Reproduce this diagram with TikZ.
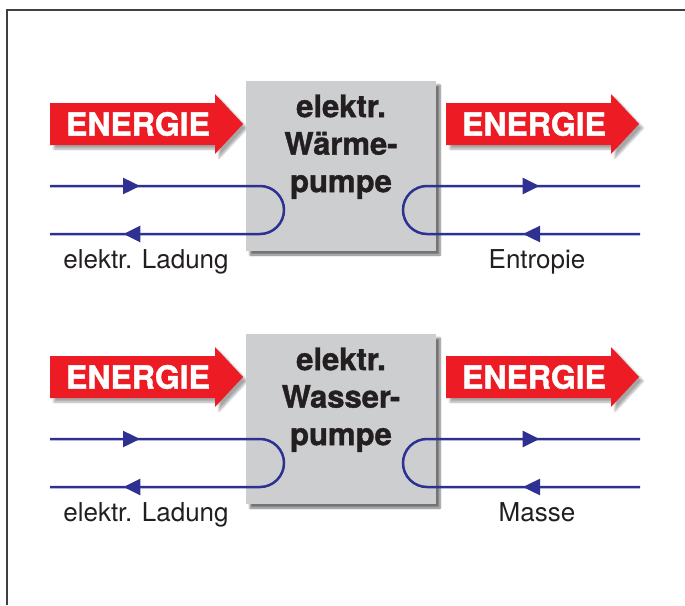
\documentclass[tikz,border=0pt]{standalone}
\usepackage{fontspec}
\setmainfont{TeX Gyre Heros}
\newfontfamily\dickschrift{texgyreheros-bold}[Extension=.otf, FakeBold=1.2]
\usetikzlibrary{positioning,arrows.meta,decorations.markings,shadows.blur}

\definecolor{energierot}{HTML}{ED1C24}
\definecolor{kreisblau}{HTML}{2E3192}
\definecolor{pumpgrau}{HTML}{CDCED0}
\definecolor{schwarz}{HTML}{231F20}

\tikzset{
    pumpe/.style={fill=pumpgrau, minimum width=190pt, minimum height=170pt, inner sep=0pt,
        blur shadow={shadow xshift=4pt, shadow yshift=-4pt, shadow blur steps=6, shadow opacity=55}},
    pumptext/.style={align=center, inner sep=0pt, text=schwarz,
        font=\fontsize{31}{37.5}\selectfont\dickschrift},
    energie/.style={fill=energierot,
        blur shadow={shadow xshift=4pt, shadow yshift=-4pt, shadow blur steps=6, shadow opacity=35}},
    energietext/.style={text=white, inner sep=0pt, font=\fontsize{32}{32}\selectfont\dickschrift},
    kreis/.style 2 args={draw=kreisblau, line width=2.5pt,
        decoration={markings,
            mark=at position #1 with {\arrow{Triangle[length=17pt,width=16pt]}},
            mark=at position #2 with {\arrow{Triangle[length=17pt,width=16pt]}}},
        postaction=decorate},
    beschriftung/.style={anchor=base, inner sep=0pt, text=schwarz, font=\fontsize{26}{26}\selectfont}
}

\begin{document}
\begin{tikzpicture}[x=1pt,y=-1pt]
    \useasboundingbox (0,0) rectangle (685,605);
    \draw[line width=1.3pt, black!75] (7,605) -- (7,10) -- (685,10);
    \foreach \dy/\i/\art/\stoff in {0/1/Wärme/Entropie, 253/2/Wasser/Masse} {
        \begin{scope}[shift={(0,\dy)}]
            % Energiepfeile
            \foreach \ax/\s in {50/l,446/r} {
                \fill[energie] (\ax,103) -- ++(165,0) -- ++(0,-9) -- ++(28,30)
                    -- ++(-28,30) -- ++(0,-9) -- ++(-165,0) -- cycle;
                \node[energietext] (en\s\i) at (\ax+88,124) {ENERGIE};
            }
            \node[pumpe] (wp\i) at (341,166) {};
            \node[pumptext, below=13.5pt of wp\i.north] (wpt\i) {elektr.\\\art-\\pumpe};
            % Kreislaeufe
            \coordinate (lo\i) at (50,186);
            \coordinate (lu\i) at (50,234);
            \coordinate (ro\i) at (640,186);
            \coordinate (ru\i) at (640,234);
            \draw[kreis={90pt}{422pt}] (lo\i) -- (260,186)
                arc[start angle=-90, end angle=90, radius=24] -- (lu\i);
            \draw[kreis={117pt}{401pt}] (ru\i) -- (427,234)
                arc[start angle=90, end angle=270, radius=24] -- (ro\i);
            \node[beschriftung] (la\i) at (146,268) {elektr. Ladung};
            \node[beschriftung] (st\i) at (537,268) {\stoff};
        \end{scope}
    }
\end{tikzpicture}
\end{document}
